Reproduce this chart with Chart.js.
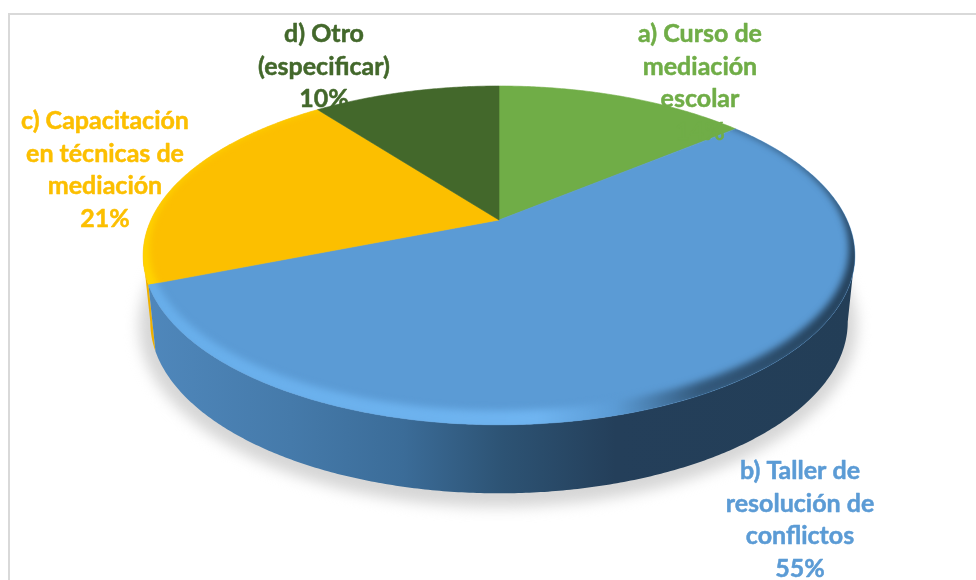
<!DOCTYPE html>
<html>
<head>
<meta charset="utf-8">
<style>html,body{margin:0;padding:0;background:#fff}#w{width:976px;height:580px}</style>
<script src="https://cdn.jsdelivr.net/npm/chart.js@4"></script>
</head>
<body>
<div id="w"><canvas id="c" width="976" height="580"></canvas></div>
<script>
const categories = ["a) Curso de mediación escolar","b) Taller de resolución de conflictos","c) Capacitación en técnicas de mediación","d) Otro (especificar)"];
const values = [14,55,20.6,10.4];
const labelLines = [["a) Curso de","mediación","escolar"],["b) Taller de","resolución de","conflictos"],["c) Capacitación","en técnicas de","mediación"],["d) Otro","(especificar)"]];
const sliceColors = ["#70ad47","#5b9bd5","#fcbf00","#43682b"];

const labelX = [700,800,105,324];
const labelY = [34,471,121,34];
const LINE = 32.6;
const k = -0.209, CX = 499, AY = 220, R = 348, S = 162;
const D = Math.PI/180;
function rimTop(a){const u=Math.cos(a),v=Math.sin(a),w=1+k*v;return [CX+R*u/w,AY+S*v/w];}
function rimLow(a){const u=Math.cos(a),v=Math.sin(a),w=1+k*v;return [CX+R*0.98*u/w,AY+66+164*v/w];}
function trace(ctx,fn,a0,a1,first){
  const n=Math.max(2,Math.ceil(Math.abs(a1-a0)/(0.5*D)));
  for(let i=0;i<=n;i++){const p=fn(a0+(a1-a0)*i/n);(i==0&&first)?ctx.moveTo(p[0],p[1]):ctx.lineTo(p[0],p[1]);}
}
function slicePath(ctx,e){ctx.beginPath();ctx.moveTo(CX,AY);trace(ctx,rimTop,e.startAngle,e.endAngle,false);ctx.closePath();}
Chart.ArcElement.prototype.draw=function(ctx){
  ctx.save();slicePath(ctx,this);
  ctx.fillStyle=this.options.backgroundColor;ctx.strokeStyle=this.options.backgroundColor;ctx.lineWidth=0.6;
  ctx.fill();ctx.stroke();ctx.restore();
};
function wallFill(ctx,i){
  if(i===2) return "#eeb000";
  const g=ctx.createLinearGradient(150,0,855,0);
  g.addColorStop(0,"#4f87bb");g.addColorStop(0.2,"#457aaa");g.addColorStop(0.36,"#3b6c98");
  g.addColorStop(0.5,"#2d5374");g.addColorStop(0.66,"#243f5a");g.addColorStop(1,"#233e57");
  return g;
}
const pie3d={id:"pie3d",
  beforeDatasetsDraw(chart){
    const ctx=chart.ctx,arcs=chart.getDatasetMeta(0).data;
    ctx.save();
    ctx.fillStyle="#d9d9d9";ctx.fillRect(8,13,968,2);ctx.fillRect(8,13,2,567);
    ctx.filter="blur(7px)";ctx.fillStyle="#d6d6d6";
    ctx.beginPath();ctx.ellipse(CX-1,326,359,181,0,0,2*Math.PI);ctx.fill();
    ctx.filter="none";
    const lo=12*D,hi=168*D;
    [2,1,0,3].forEach(i=>{
      const e=arcs[i];
      for(const shift of [0,2*Math.PI]){
        const a0=Math.max(e.startAngle+shift,lo),a1=Math.min(e.endAngle+shift,hi);
        if(a1<=a0) continue;
        ctx.beginPath();trace(ctx,rimTop,a0,a1,true);trace(ctx,rimLow,a1,a0,false);ctx.closePath();
        ctx.fillStyle=wallFill(ctx,i);ctx.fill();
      }
    });
    ctx.restore();
  },
  afterDatasetsDraw(chart){
    const ctx=chart.ctx,arcs=chart.getDatasetMeta(0).data;
    [1,2].forEach(i=>{
      ctx.save();slicePath(ctx,arcs[i]);ctx.clip();
      ctx.filter="blur(3.5px)";
      ctx.beginPath();
      ctx.ellipse(CX,255.5,360,174,0,0,2*Math.PI);
      ctx.ellipse(CX,248.5,350,162,0,0,2*Math.PI);
      if(i===1){
        const g=ctx.createLinearGradient(150,0,855,0);
        g.addColorStop(0,"#68aeea");g.addColorStop(0.55,"#6fb4f0");g.addColorStop(0.66,"#5b9bd5");
        g.addColorStop(0.78,"#33597c");g.addColorStop(1,"#233e57");
        ctx.fillStyle=g;
      } else ctx.fillStyle="#ffd500";
      ctx.fill("evenodd");ctx.restore();
    });
    ctx.save();
    ctx.font="bold 25px Lato";ctx.textAlign="center";ctx.textBaseline="middle";
    ctx.lineWidth=0.5;ctx.lineJoin="round";
    values.forEach((v,i)=>{
      ctx.fillStyle=sliceColors[i];ctx.strokeStyle=sliceColors[i];
      const lines=labelLines[i].concat([Math.round(v)+"%"]);
      lines.forEach((t,j)=>{ctx.fillText(t,labelX[i],labelY[i]+j*LINE);ctx.strokeText(t,labelX[i],labelY[i]+j*LINE);});
    });
    ctx.restore();
  }
};
new Chart(document.getElementById("c"),{
  type:"pie",
  data:{labels:categories,datasets:[{data:values,backgroundColor:sliceColors,borderWidth:0}]},
  options:{responsive:false,animation:false,
    plugins:{legend:{display:false},tooltip:{enabled:false}}},
  plugins:[pie3d]
});
</script>
</body>
</html>
